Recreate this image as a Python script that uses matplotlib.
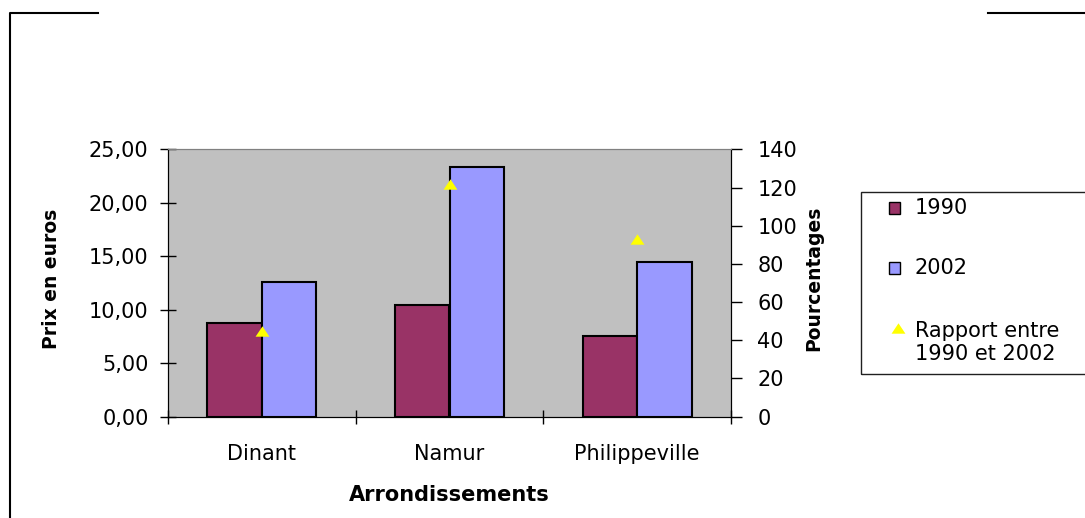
import matplotlib.pyplot as plt
import numpy as np
from matplotlib.lines import Line2D
from matplotlib.patches import Rectangle
from matplotlib.path import Path

# prix moyens par arrondissement (euros) et rapport entre les deux années (%)
arrondissements = ["Dinant", "Namur", "Philippeville"]
prix_1990 = [8.79, 10.45, 7.52]
prix_2002 = [12.57, 23.35, 14.44]
rapport = [45, 122, 93]

col_1990 = "#993366"
col_2002 = "#9999FF"
col_tri = "#FFFF00"

plt.rcParams["font.family"] = "DejaVu Sans"

W, H = 1085, 518
fig = plt.figure(figsize=(W / 100, H / 100), dpi=100)
fig.patch.set_facecolor("white")


def fx(px):
    return px / W


def fy(py):
    return 1 - py / H


ax = fig.add_axes([fx(168), fy(416.7), fx(731) - fx(168), fy(149.3) - fy(416.7)])
ax.set_facecolor("#C0C0C0")

x = np.arange(len(arrondissements))
w = 0.29
ax.bar(x - w / 2, prix_1990, w, color=col_1990, edgecolor="black", linewidth=1.5)
ax.bar(x + w / 2, prix_2002, w, color=col_2002, edgecolor="black", linewidth=1.5)

ax.set_xlim(-0.5, 2.5)
ax.set_ylim(0, 25)
ax.set_yticks(np.arange(0, 26, 5))
ax.set_yticklabels([f"{v:.2f}".replace(".", ",") for v in np.arange(0, 26, 5)])
ax.set_xticks(x)
ax.set_xticklabels(arrondissements)
ax.set_xticks(np.arange(-0.5, 3, 1), minor=True)
ax.tick_params(axis="x", which="major", length=0, pad=19.5, labelsize=15)
ax.tick_params(axis="x", which="minor", direction="inout", length=10, width=1)
ax.tick_params(axis="y", direction="inout", length=11.5, width=1, pad=8.2, labelsize=15)

for side in ["left", "bottom", "right"]:
    ax.spines[side].set_color("black")
ax.spines["top"].set_color("#808080")

ax.set_xlabel("Arrondissements", fontsize=15, fontweight="bold", labelpad=15.5)
ax.set_ylabel("Prix en euros", fontsize=13.5, fontweight="bold")
ax.yaxis.set_label_coords(-0.19, 0.515)

# axe secondaire pour le rapport en pourcentage
ax2 = ax.twinx()
ax2.set_ylim(0, 140)
ax2.set_yticks(np.arange(0, 141, 20))
ax2.tick_params(axis="y", direction="out", length=8, width=1, pad=11, labelsize=15)
ax2.spines["right"].set_color("black")
ax2.spines["top"].set_color("#808080")
ax2.set_ylabel("Pourcentages", fontsize=13.5, fontweight="bold")
ax2.yaxis.set_label_coords(1.1297, 0.519)

tri = Path([(-1, -0.75), (1, -0.75), (0, 0.75), (-1, -0.75)],
           [Path.MOVETO, Path.LINETO, Path.LINETO, Path.CLOSEPOLY])
ax2.plot(x, rapport, linestyle="none", marker=tri, markersize=10,
         color=col_tri, markeredgewidth=0)

# légende dessinée à droite, cadre coupé par le bord
fig.add_artist(Rectangle((fx(860.7), fy(374.3)), fx(1095) - fx(860.7), fy(191.7) - fy(374.3),
                         transform=fig.transFigure, facecolor="none",
                         edgecolor="#202020", linewidth=1, clip_on=False))
for yc, col, lab in [(208, col_1990, "1990"), (268, col_2002, "2002")]:
    fig.add_artist(Rectangle((fx(889), fy(yc + 6)), fx(11), 12 / H,
                             transform=fig.transFigure, facecolor=col,
                             edgecolor="black", linewidth=1))
    fig.text(fx(915), fy(yc), lab, fontsize=15, va="center", ha="left")
fig.add_artist(Line2D([fx(897.5)], [fy(328)], transform=fig.transFigure,
                      linestyle="none", marker=tri, markersize=10,
                      color=col_tri, markeredgewidth=0))
fig.text(fx(915), fy(342.5), "Rapport entre\n1990 et 2002", fontsize=15,
         va="center", ha="left", linespacing=1.2)

# cadre extérieur partiel
fig.add_artist(Line2D([fx(10), fx(10), fx(98)], [0, fy(12.7), fy(12.7)],
                      transform=fig.transFigure, color="black", linewidth=1.5))
fig.add_artist(Line2D([fx(988), fx(1085)], [fy(12.7), fy(12.7)],
                      transform=fig.transFigure, color="black", linewidth=1.5))

fig.savefig("out.png", dpi=100)
